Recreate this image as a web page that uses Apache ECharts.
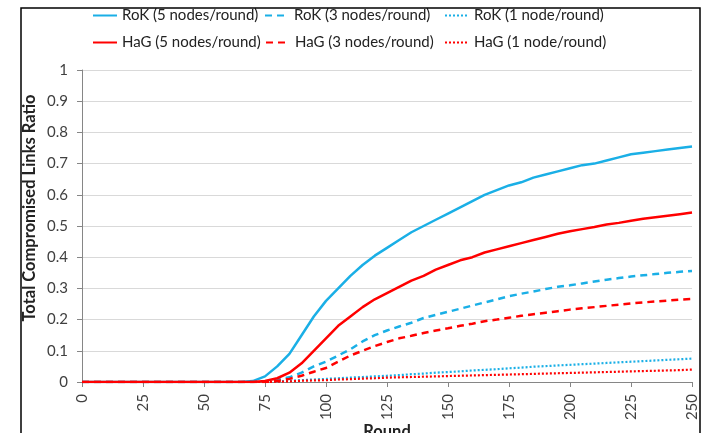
<!DOCTYPE html>
<html>
<head>
<meta charset="utf-8">
<script src="https://cdn.jsdelivr.net/npm/echarts@6/dist/echarts.min.js"></script>
<style>html,body{margin:0;padding:0;background:#fff;}#c{width:701px;height:433px;}</style>
</head>
<body>
<div id="c"></div>
<script>
var rounds = [];
for (var r = 0; r <= 250; r += 5) rounds.push(r);
var xTicks = ['0','25','50','75','100','125','150','175','200','225','250'];
var yTicks = ['0','0.1','0.2','0.3','0.4','0.5','0.6','0.7','0.8','0.9','1'];

var rok5 = [0,0,0,0,0,0,0,0,0,0,0,0,0,0,0.003,0.018,0.05,0.09,0.15,0.21,0.26,0.30,0.34,0.375,0.405,0.43,0.455,0.48,0.50,0.52,0.54,0.56,0.58,0.60,0.615,0.63,0.64,0.655,0.665,0.675,0.685,0.695,0.70,0.71,0.72,0.73,0.735,0.74,0.745,0.75,0.755];
var rok3 = [0,0,0,0,0,0,0,0,0,0,0,0,0,0,0,0.002,0.008,0.015,0.03,0.05,0.065,0.085,0.105,0.13,0.15,0.165,0.178,0.19,0.205,0.215,0.225,0.235,0.245,0.255,0.265,0.275,0.283,0.29,0.298,0.305,0.31,0.316,0.322,0.328,0.333,0.338,0.342,0.346,0.35,0.353,0.356];
var rok1 = [0,0,0,0,0,0,0,0,0,0,0,0,0,0,0,0,0.002,0.004,0.006,0.008,0.01,0.012,0.014,0.016,0.018,0.02,0.022,0.025,0.027,0.03,0.032,0.034,0.037,0.039,0.041,0.044,0.046,0.049,0.051,0.053,0.055,0.057,0.059,0.061,0.063,0.065,0.067,0.069,0.071,0.073,0.075];
var hag5 = [0,0,0,0,0,0,0,0,0,0,0,0,0,0,0,0.003,0.012,0.03,0.06,0.10,0.14,0.18,0.21,0.24,0.265,0.285,0.305,0.325,0.34,0.36,0.375,0.39,0.40,0.415,0.425,0.435,0.445,0.455,0.465,0.475,0.483,0.49,0.497,0.505,0.51,0.517,0.523,0.528,0.533,0.538,0.543];
var hag3 = [0,0,0,0,0,0,0,0,0,0,0,0,0,0,0,0,0.003,0.01,0.02,0.033,0.045,0.065,0.085,0.10,0.115,0.128,0.14,0.148,0.157,0.165,0.172,0.18,0.187,0.195,0.2,0.206,0.212,0.217,0.222,0.227,0.232,0.236,0.24,0.244,0.248,0.252,0.255,0.258,0.261,0.264,0.266];
var hag1 = [0,0,0,0,0,0,0,0,0,0,0,0,0,0,0,0,0.001,0.002,0.004,0.005,0.006,0.008,0.009,0.011,0.012,0.014,0.015,0.016,0.017,0.018,0.019,0.02,0.021,0.022,0.023,0.024,0.025,0.026,0.027,0.028,0.029,0.03,0.031,0.032,0.033,0.034,0.035,0.036,0.037,0.038,0.04];

var names = ['RoK (5 nodes/round)','RoK (3 nodes/round)','RoK (1 node/round)','HaG (5 nodes/round)','HaG (3 nodes/round)','HaG (1 node/round)'];
var values = [rok5, rok3, rok1, hag5, hag3, hag1];
var colors = ['#1AAFE6','#1AAFE6','#1AAFE6','#FF0000','#FF0000','#FF0000'];
var types = ['solid',[7,5],[2,2],'solid',[7,5],[2,2]];
var widths = [2.5,2.5,2.2,2.5,2.5,2.2];

var FONT = 'Lato';
var series = values.map(function(v, i){
  return {
    name: names[i], type: 'line', symbol: 'none', showSymbol: false,
    data: v.map(function(y, k){ return [rounds[k], y]; }),
    lineStyle: {color: colors[i], width: widths[i], type: types[i]},
    itemStyle: {color: colors[i]},
    animation: false, z: i < 3 ? 2 : 3
  };
});

var legendLefts = [92, 264, 444, 92, 265, 444];
var legendTops = [8, 8, 8, 35, 35, 35];
var legends = names.map(function(n, i){
  return {
    data: [n], left: legendLefts[i], top: legendTops[i], itemWidth: 24, itemHeight: 14,
    padding: 0, selectedMode: false,
    itemStyle: {color: 'rgba(0,0,0,0)', borderWidth: 0, opacity: 0},
    textStyle: {fontFamily: FONT, fontSize: 15, color: '#222'}
  };
});

var chart = echarts.init(document.getElementById('c'), null, {renderer: 'canvas'});
chart.setOption({
  animation: false,
  backgroundColor: '#fff',
  legend: legends,
  grid: {left: 82, right: 9, top: 70, bottom: 51, containLabel: false, outerBoundsMode: 'none'},
  xAxis: {
    type: 'value', min: 0, max: 250, interval: 25,
    name: 'Round', nameLocation: 'middle', nameGap: 41, nameMoveOverlap: false,
    nameTextStyle: {fontFamily: FONT, fontSize: 16.5, fontWeight: 'bold', color: '#222'},
    axisLine: {show: true, lineStyle: {color: '#868686', width: 1}},
    axisTick: {show: true, length: 5, lineStyle: {color: '#868686'}},
    splitLine: {show: false},
    axisLabel: {rotate: 90, margin: 12, fontFamily: FONT, fontSize: 15, color: '#404040',
      formatter: function(v){ return xTicks[Math.round(v/25)]; }}
  },
  yAxis: {
    type: 'value', min: 0, max: 1, interval: 0.1,
    axisLine: {show: true, lineStyle: {color: '#868686', width: 1}},
    axisTick: {show: true, length: 5, lineStyle: {color: '#868686'}},
    splitLine: {show: true, lineStyle: {color: '#D9D9D9', width: 1}},
    axisLabel: {margin: 14, fontFamily: FONT, fontSize: 15, color: '#404040',
      formatter: function(v){ return yTicks[Math.round(v*10)]; }}
  },
  graphic: [
    {type: 'rect', shape: {x: 21, y: 8, width: 679, height: 460}, style: {fill: 'none', stroke: '#000', lineWidth: 1.5}, z: 100, silent: true},
    {type: 'text', x: 30, y: 208, rotation: Math.PI/2,
      style: {text: 'Total Compromised Links Ratio', fontFamily: FONT, fontSize: 16.5, fontWeight: 'bold', fill: '#222', align: 'center', verticalAlign: 'middle'}}
  ],
  series: series
});
</script>
</body>
</html>
